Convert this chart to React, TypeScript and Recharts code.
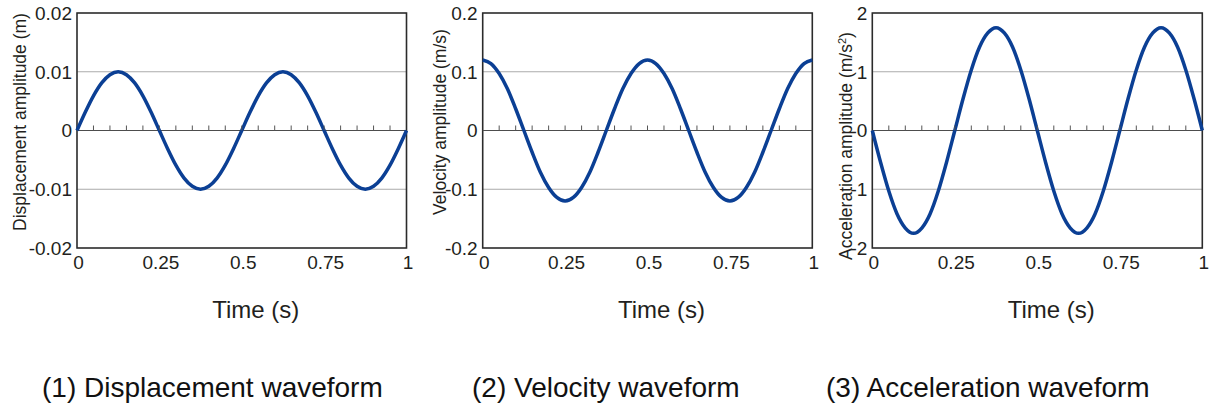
import {
  ComposedChart,
  Line,
  Scatter,
  XAxis,
  YAxis,
  CartesianGrid,
  ReferenceLine,
  ReferenceArea,
} from "recharts";

const TIME = [
  0, 0.025, 0.05, 0.075, 0.1, 0.125, 0.15, 0.175, 0.2, 0.225, 0.25, 0.275, 0.3, 0.325, 0.35, 0.375, 0.4, 0.425, 0.45,
  0.475, 0.5, 0.525, 0.55, 0.575, 0.6, 0.625, 0.65, 0.675, 0.7, 0.725, 0.75, 0.775, 0.8, 0.825, 0.85, 0.875, 0.9,
  0.925, 0.95, 0.975, 1,
];

const DISPLACEMENT = [
  0, 0.0031, 0.0059, 0.0081, 0.0095, 0.01, 0.0095, 0.0081, 0.0059, 0.0031, 0, -0.0031, -0.0059, -0.0081, -0.0095,
  -0.01, -0.0095, -0.0081, -0.0059, -0.0031, 0, 0.0031, 0.0059, 0.0081, 0.0095, 0.01, 0.0095, 0.0081, 0.0059, 0.0031,
  0, -0.0031, -0.0059, -0.0081, -0.0095, -0.01, -0.0095, -0.0081, -0.0059, -0.0031, 0,
];

const VELOCITY = [
  0.12, 0.114, 0.097, 0.071, 0.037, 0, -0.037, -0.071, -0.097, -0.114, -0.12, -0.114, -0.097, -0.071, -0.037, 0,
  0.037, 0.071, 0.097, 0.114, 0.12, 0.114, 0.097, 0.071, 0.037, 0, -0.037, -0.071, -0.097, -0.114, -0.12, -0.114,
  -0.097, -0.071, -0.037, 0, 0.037, 0.071, 0.097, 0.114, 0.12,
];

const ACCELERATION = [
  0, -0.54, -1.03, -1.42, -1.66, -1.75, -1.66, -1.42, -1.03, -0.54, 0, 0.54, 1.03, 1.42, 1.66, 1.75, 1.66, 1.42, 1.03,
  0.54, 0, -0.54, -1.03, -1.42, -1.66, -1.75, -1.66, -1.42, -1.03, -0.54, 0, 0.54, 1.03, 1.42, 1.66, 1.75, 1.66, 1.42,
  1.03, 0.54, 0,
];

const X_TICKS = [0, 0.25, 0.5, 0.75, 1];
const MINOR_TICKS = [
  0.05, 0.1, 0.15, 0.2, 0.25, 0.3, 0.35, 0.4, 0.45, 0.5, 0.55, 0.6, 0.65, 0.7, 0.75, 0.8, 0.85, 0.9, 0.95,
];

const DISP_TICKS = [-0.02, -0.01, 0, 0.01, 0.02];
const VEL_TICKS = [-0.2, -0.1, 0, 0.1, 0.2];
const ACC_TICKS = [-2, -1, 0, 1, 2];

const CAPTIONS = ["(1) Displacement waveform", "(2) Velocity waveform", "(3) Acceleration waveform"];

const FONT = "'Liberation Sans', Arial, sans-serif";
const INK = "#231f20";
const WAVE = "#0b3f94";

const minorData = MINOR_TICKS.map((t) => ({ t, zero: 0 }));

function MinorTick(props: any) {
  const { cx, cy } = props;
  return <line x1={cx} x2={cx} y1={cy} y2={cy - 5} stroke="#555" strokeWidth={1} />;
}

function XTick(props: any) {
  const { x, y, payload } = props;
  return (
    <text x={x + 1.5} y={y} dy="0.71em" textAnchor="middle" fontSize={19} fill={INK} fontFamily={FONT}>
      {String(payload.value)}
    </text>
  );
}

function YTick(props: any) {
  const { x, y, payload } = props;
  return (
    <text x={x} y={y} dy="0.36em" textAnchor="end" fontSize={19} fill={INK} fontFamily={FONT}>
      {String(payload.value)}
    </text>
  );
}

type PanelProps = {
  left: number;
  width: number;
  axisWidth: number;
  marginRight: number;
  values: number[];
  ticks: number[];
  yLabel: React.ReactNode;
  yLabelX: number;
  yLabelY: number;
};

function Panel({ left, width, axisWidth, marginRight, values, ticks, yLabel, yLabelX, yLabelY }: PanelProps) {
  const data = TIME.map((t, i) => ({ t, v: values[i] }));
  const lo = ticks[0];
  const hi = ticks[ticks.length - 1];
  return (
    <div style={{ position: "absolute", left, top: 0 }}>
      <ComposedChart width={width} height={330} data={data} margin={{ top: 13, right: marginRight, left: 0, bottom: 0 }}>
        <CartesianGrid vertical={false} stroke="#ababab" strokeWidth={1} />
        <XAxis
          dataKey="t"
          type="number"
          domain={[0, 1]}
          ticks={X_TICKS}
          height={82}
          axisLine={false}
          tickLine={false}
          tickSize={0}
          tickMargin={8}
          tick={XTick}
          label={(p: any) => {
            const vb = p.viewBox;
            return (
              <text
                x={vb.x + vb.width / 2 + 14}
                y={318}
                textAnchor="middle"
                fontSize={24}
                fill={INK}
                fontFamily={FONT}
              >
                Time (s)
              </text>
            );
          }}
        />
        <YAxis
          type="number"
          domain={[lo, hi]}
          ticks={ticks}
          width={axisWidth}
          axisLine={false}
          tickLine={false}
          tickSize={0}
          tickMargin={5}
          tick={YTick}
          interval={0}
          label={() => (
            <text
              x={yLabelX}
              y={yLabelY}
              transform={`rotate(-90 ${yLabelX} ${yLabelY})`}
              textAnchor="middle"
              fontSize={17.5}
              fill={INK}
              fontFamily={FONT}
            >
              {yLabel}
            </text>
          )}
        />
        <ReferenceLine y={0} stroke="#4d4d4d" strokeWidth={1.2} />
        <Scatter data={minorData} dataKey="zero" shape={MinorTick} isAnimationActive={false} />
        <Line
          type="monotone"
          dataKey="v"
          stroke={WAVE}
          strokeWidth={3.5}
          dot={false}
          activeDot={false}
          isAnimationActive={false}
        />
        <ReferenceArea x1={0} x2={1} y1={lo} y2={hi} fill="none" stroke="#2b2b2b" strokeWidth={1.6} ifOverflow="visible" />
      </ComposedChart>
    </div>
  );
}

export default function App() {
  const captionLefts = [42, 472, 826];
  return (
    <div style={{ position: "absolute", left: 0, top: 0, width: 1209, height: 410, background: "#fff", overflow: "hidden" }}>
      <Panel
        left={0}
        width={420}
        axisWidth={77}
        marginRight={13.5}
        values={DISPLACEMENT}
        ticks={DISP_TICKS}
        yLabel="Displacement amplitude (m)"
        yLabelX={26}
        yLabelY={122}
      />
      <Panel
        left={420}
        width={400}
        axisWidth={62.7}
        marginRight={7.7}
        values={VELOCITY}
        ticks={VEL_TICKS}
        yLabel="Velocity amplitude (m/s)"
        yLabelX={26}
        yLabelY={122}
      />
      <Panel
        left={820}
        width={395}
        axisWidth={52.3}
        marginRight={12.7}
        values={ACCELERATION}
        ticks={ACC_TICKS}
        yLabel={
          <>
            Acceleration amplitude (m/s
            <tspan dy={-6} fontSize={11}>
              2
            </tspan>
            <tspan dy={6}>)</tspan>
          </>
        }
        yLabelX={32}
        yLabelY={146}
      />
      {CAPTIONS.map((c, i) => (
        <div
          key={c}
          style={{
            position: "absolute",
            left: captionLefts[i],
            top: 374,
            fontFamily: FONT,
            fontSize: 28,
            lineHeight: "28px",
            color: "#111",
            whiteSpace: "nowrap",
          }}
        >
          {c}
        </div>
      ))}
    </div>
  );
}
